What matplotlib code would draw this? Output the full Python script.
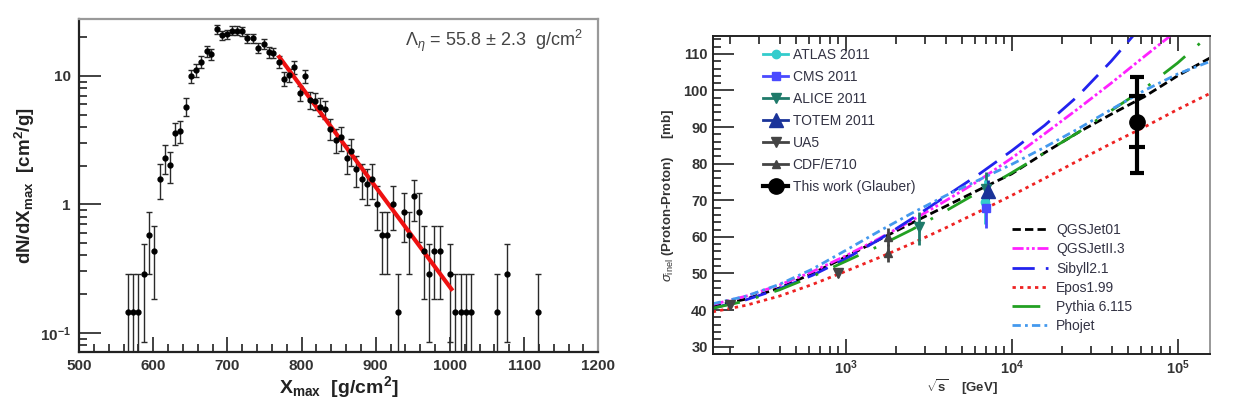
import numpy as np
import matplotlib
matplotlib.use("Agg")
import matplotlib.pyplot as plt
from matplotlib.lines import Line2D
from matplotlib.ticker import FixedLocator, FixedFormatter, MultipleLocator, LogLocator, NullFormatter

plt.rcParams['font.family'] = ['Liberation Sans', 'DejaVu Sans']
plt.rcParams['mathtext.fontset'] = 'custom'
plt.rcParams['mathtext.rm'] = 'Liberation Sans'
plt.rcParams['mathtext.it'] = 'Liberation Sans:italic'
plt.rcParams['mathtext.bf'] = 'Liberation Sans:bold'

# ---- left panel: Xmax distribution (histogram of counts, scaled) ----
xmax_bins = [565.6, 572.3, 579.0, 587.5, 594.7, 601.5, 608.8, 615.6, 622.8, 629.0,
             636.7, 643.9, 650.7, 657.5, 664.6, 671.8, 678.5, 685.8, 693.0, 699.3,
             706.5, 713.2, 719.6, 727.0, 733.9, 741.1, 748.7, 755.4, 761.8, 769.5,
             776.2, 783.0, 790.1, 797.4, 804.1, 811.0, 818.0, 824.7, 831.8, 838.6,
             845.8, 852.6, 861.0, 867.0, 873.8, 881.0, 888.3, 895.0, 902.0, 908.9,
             915.6, 922.8, 930.5, 937.6, 944.5, 951.3, 957.8, 965.0, 972.3, 979.0,
             986.0, 1000.7, 1007.4, 1014.6, 1021.3, 1028.5, 1063.6, 1077.6, 1119.4]
counts = [1, 1, 1, 2, 4, 3, 11, 16, 14, 25,
          26, 40, 69, 77, 89, 108, 102, 160, 144, 147,
          156, 156, 155, 136, 136, 115, 123, 106, 105, 89,
          66, 70, 81, 51, 69, 45, 44, 40, 38, 27,
          22, 23, 16, 18, 13, 11, 10, 11, 7, 4,
          4, 7, 1, 6, 4, 8, 6, 3, 2, 3,
          3, 2, 1, 1, 1, 1, 1, 2, 1]
norm = 0.144          # dN/dX per event
fit_lambda = 55.8     # g/cm2
fit_start, fit_end = 770.0, 1002.0
fit_norm = 14.0       # value of fit at fit_start

# ---- right panel: cross sections ----
model_sqrts = [158, 251, 398, 631, 1000, 1585, 2512, 3981, 6310, 10000,
               15849, 25119, 39811, 63096, 100000, 158489]
qgsjet01 = [41.0, 43.0, 46.0, 50.0, 54.5, 59.2, 63.8, 68.3, 72.8, 77.2,
            83.0, 88.5, 93.5, 98.3, 104.0, 109.0]
qgsjet2 = [41.5, 43.8, 46.8, 50.5, 54.8, 59.5, 64.5, 69.8, 75.3, 81.5,
           88.2, 95.0, 102.0, 109.3, 116.5, 124.0]
sibyll = [40.5, 42.8, 45.8, 49.5, 54.0, 59.2, 65.0, 71.0, 77.0, 83.5,
          90.5, 98.5, 108.0, 118.5, 129.0, 140.0]
epos = [39.5, 41.3, 43.8, 47.0, 50.6, 54.3, 58.2, 62.4, 66.8, 71.3,
        76.0, 80.8, 85.5, 90.0, 94.8, 99.3]
pythia = [40.5, 42.5, 45.5, 49.2, 53.3, 57.5, 62.0, 67.0, 72.2, 77.5,
          83.0, 88.5, 94.5, 100.5, 107.5, 115.5]
phojet = [41.7, 43.8, 47.0, 51.2, 56.3, 61.5, 66.5, 71.2, 75.5, 79.8,
          84.5, 89.5, 94.8, 100.0, 104.5, 108.0]

ua5_sqrts = [200, 900]
ua5_sigma = [41.5, 50.0]
ua5_err = [0.9, 0.9]
cdf_sqrts = [1800, 1800]
cdf_sigma = [55.5, 60.0]
cdf_err = [2.5, 2.5]
alice_sqrts = [2760, 7000]
alice_sigma = [62.8, 73.2]
alice_lo = [5.0, 4.6]
alice_hi = [4.0, 4.5]
atlas_sqrts = [6900]
atlas_sigma = [69.4]
atlas_err = [6.0]
cms_sqrts = [7050]
cms_sigma = [68.0]
cms_err = [5.5]
totem_sqrts = [7200]
totem_sigma = [72.5]
totem_err = [3.0]
glauber_sqrts = [57000]
glauber_sigma = [91.5]
glauber_lo, glauber_hi = [14.0], [12.2]
glauber_stat = [6.9]

fig = plt.figure(figsize=(12.36, 4.04), dpi=100)

# ================= left =================
ax = fig.add_axes([0.064, 0.129, 0.420, 0.824])
xb = np.array(xmax_bins)
n = np.array(counts, dtype=float)
y = n * norm
err = np.sqrt(n) * norm
lo = np.minimum(err, y * 0.9999)
ax.errorbar(xb, y, yerr=[lo, err], fmt='o', color='black', ms=3.5,
            ecolor='#2a2a2a', elinewidth=1.0, capsize=2.2, capthick=1.0)
xf = np.linspace(fit_start, fit_end, 50)
ax.plot(xf, fit_norm * np.exp(-(xf - fit_start) / fit_lambda), color='#ee1111', lw=3)
ax.set_yscale('log')
ax.set_xlim(500, 1200)
ax.set_ylim(0.071, 27.7)
ax.xaxis.set_major_locator(MultipleLocator(100))
ax.xaxis.set_minor_locator(MultipleLocator(20))
ax.yaxis.set_major_locator(FixedLocator([0.1, 1, 10]))
ax.yaxis.set_major_formatter(FixedFormatter([r'10$^{\mathbf{-1}}$', '1', '10']))
ax.yaxis.set_minor_locator(LogLocator(subs=np.arange(2, 10)))
ax.yaxis.set_minor_formatter(NullFormatter())
ax.tick_params(which='both', direction='in', top=False, right=False, width=1.3, color='#333333')
ax.tick_params(axis='x', which='major', length=11, labelsize=11, pad=5)
ax.tick_params(axis='y', which='major', length=16, labelsize=11, pad=6)
ax.tick_params(which='minor', length=6)
for lab in ax.get_xticklabels() + ax.get_yticklabels():
    lab.set_fontweight('bold')
    lab.set_color('#333333')
for s in ['left', 'bottom']:
    ax.spines[s].set_linewidth(1.6)
    ax.spines[s].set_color('#222222')
for s in ['top', 'right']:
    ax.spines[s].set_linewidth(1.6)
    ax.spines[s].set_color('#999999')
ax.set_xlabel(r'X$_{\mathbf{max}}$  [g/cm$^{\mathbf{2}}$]', fontsize=14, fontweight='bold', color='#222222', labelpad=1)
ax.set_ylabel(r'dN/dX$_{\mathbf{max}}$  [cm$^{\mathbf{2}}$/g]', fontsize=13.5, fontweight='bold', color='#222222', labelpad=2)
ax.text(0.97, 0.975, r'$\Lambda_{\eta}$ = 55.8 $\pm$ 2.3  g/cm$^{2}$', transform=ax.transAxes,
        ha='right', va='top', fontsize=13, color='#444444')

# ================= right =================
bx = fig.add_axes([0.577, 0.123, 0.402, 0.788])
bx.set_xscale('log')
bx.plot(model_sqrts, qgsjet01, color='black', lw=2, dashes=(3, 1.5), label='QGSJet01')
bx.plot(model_sqrts, qgsjet2, color='#ff22ff', lw=2, dashes=(4, 1, 1, 1, 1, 1), label='QGSJetII.3')
bx.plot(model_sqrts, sibyll, color='#2222ee', lw=2, dashes=(8, 4), label='Sibyll2.1')
bx.plot(model_sqrts, epos, color='#ee2222', lw=2, dashes=(1.2, 1.5), label='Epos1.99')
bx.plot(model_sqrts, pythia, color='#22a022', lw=2, dashes=(10, 6, 1, 6), label='Pythia 6.115')
bx.plot(model_sqrts, phojet, color='#4499ee', lw=2, dashes=(3, 1.5, 1, 1.5), label='Phojet')

ekw = dict(elinewidth=2, capsize=0)
bx.errorbar(ua5_sqrts, ua5_sigma, yerr=ua5_err, fmt='v', color='#444444', ms=7, **ekw)
bx.errorbar(cdf_sqrts, cdf_sigma, yerr=cdf_err, fmt='^', color='#444444', ms=6, **ekw)
bx.errorbar(alice_sqrts, alice_sigma, yerr=[alice_lo, alice_hi], fmt='v', color='#1f7a6a', ms=7, **ekw)
bx.errorbar(atlas_sqrts, atlas_sigma, yerr=atlas_err, fmt='o', color='#33cccc', ms=6, **ekw)
bx.errorbar(cms_sqrts, cms_sigma, yerr=cms_err, fmt='s', color='#4a4aff', ms=6, **ekw)
bx.errorbar(totem_sqrts, totem_sigma, yerr=totem_err, fmt='^', color='#1a3399', ms=10, **ekw)
bx.errorbar(glauber_sqrts, glauber_sigma, yerr=[glauber_lo, glauber_hi], fmt='o', color='black',
            ms=11, elinewidth=3, capsize=5, capthick=3)
bx.errorbar(glauber_sqrts, glauber_sigma, yerr=glauber_stat, fmt='none', ecolor='black',
            elinewidth=0, capsize=6, capthick=3)

bx.set_xlim(159, 1.57e5)
bx.set_ylim(27.9, 114.9)
bx.yaxis.set_major_locator(MultipleLocator(10))
bx.yaxis.set_minor_locator(MultipleLocator(2))
bx.xaxis.set_major_locator(FixedLocator([1e3, 1e4, 1e5]))
bx.xaxis.set_major_formatter(FixedFormatter([r'10$^{\mathbf{3}}$', r'10$^{\mathbf{4}}$', r'10$^{\mathbf{5}}$']))
bx.xaxis.set_minor_locator(LogLocator(subs=np.arange(2, 10)))
bx.xaxis.set_minor_formatter(NullFormatter())
bx.tick_params(which='both', direction='in', top=True, right=False, width=1.3, color='#333333')
bx.tick_params(axis='x', which='major', length=11, labelsize=10.5, pad=3)
bx.tick_params(axis='y', which='major', length=15, labelsize=10.5, pad=4)
bx.tick_params(which='minor', length=6)
for lab in bx.get_xticklabels() + bx.get_yticklabels():
    lab.set_fontweight('bold')
    lab.set_color('#333333')
for s in ['left', 'bottom', 'top']:
    bx.spines[s].set_linewidth(1.4)
    bx.spines[s].set_color('#222222')
bx.spines['right'].set_linewidth(1.4)
bx.spines['right'].set_color('#999999')
bx.set_xlabel(r'$\sqrt{\mathbf{s}}$    [GeV]', fontsize=9.5, fontweight='bold', color='#333333', labelpad=0)
bx.set_ylabel(r'$\sigma_{\rm inel}$ (Proton-Proton)     [mb]', fontsize=9.5, fontweight='bold',
              color='#333333', labelpad=5)

data_handles = [
    Line2D([], [], color='#33cccc', marker='o', lw=2, ms=6),
    Line2D([], [], color='#4a4aff', marker='s', lw=2, ms=6),
    Line2D([], [], color='#1f7a6a', marker='v', lw=2, ms=7),
    Line2D([], [], color='#1a3399', marker='^', lw=2, ms=10),
    Line2D([], [], color='#444444', marker='v', lw=2, ms=7),
    Line2D([], [], color='#444444', marker='^', lw=2, ms=6),
    Line2D([], [], color='black', marker='o', lw=3, ms=11),
]
data_labels = ['ATLAS 2011', 'CMS 2011', 'ALICE 2011', 'TOTEM 2011', 'UA5', 'CDF/E710',
               'This work (Glauber)']
leg1 = bx.legend(data_handles, data_labels, loc='upper left', bbox_to_anchor=(0.09, 0.98),
                 frameon=False, fontsize=10, handlelength=1.8, handletextpad=0.3,
                 labelspacing=0.58, borderaxespad=0)
for t in leg1.get_texts():
    t.set_color('#333344')
bx.add_artist(leg1)
leg2 = bx.legend(loc='upper left', bbox_to_anchor=(0.59, 0.43), frameon=False, fontsize=10,
                 handlelength=2.6, handletextpad=0.6, labelspacing=0.38, borderaxespad=0)
for t in leg2.get_texts():
    t.set_color('#333344')

fig.savefig('out.png', dpi=100)
